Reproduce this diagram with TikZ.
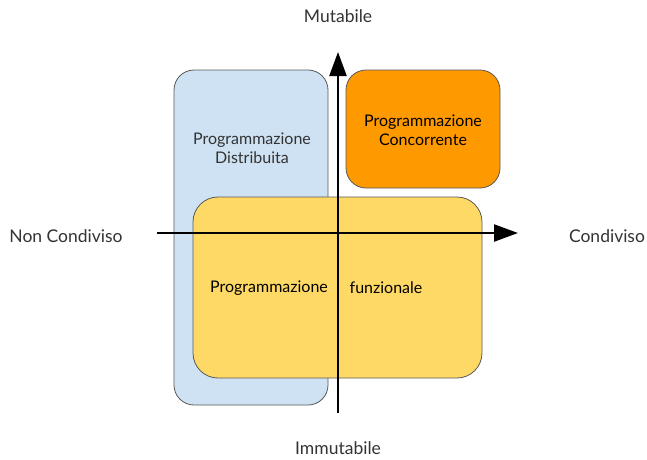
\documentclass[tikz,border=0pt]{standalone}
\usepackage{fontspec}
\setmainfont{Lato}
\usetikzlibrary{arrows.meta}
\definecolor{boxblue}{HTML}{CFE2F3}
\definecolor{boxorange}{HTML}{FF9900}
\definecolor{boxyellow}{HTML}{FFD966}
\definecolor{edgegray}{HTML}{595959}
\definecolor{txt}{HTML}{333333}
\begin{document}
\begin{tikzpicture}[x=1pt,y=-1pt,
  region/.style={draw=edgegray,line width=0.8pt,rounded corners=20pt},
  lbl/.style={font=\fontsize{17.5}{20}\selectfont,text=txt,align=center,inner sep=0pt},
  inlbl/.style={font=\fontsize{16}{19.5}\selectfont,text=txt,align=center,inner sep=0pt},
  axis/.style={line width=2.4pt,-{Triangle[length=24pt,width=17pt]}}]
\useasboundingbox (0,0) rectangle (647,459);
\fill[white] (0,0) rectangle (647,459);
\draw[region,fill=boxblue] (174,70) rectangle (328,405);
\draw[region,fill=boxorange] (346,70) rectangle (500,188);
\draw[region,fill=boxyellow,rounded corners=25pt] (193,197) rectangle (482,378);
\coordinate (hl) at (157,233);
\coordinate (hr) at (518,233);
\coordinate (vb) at (338,413);
\coordinate (vt) at (338,52);
\draw[axis] (hl) -- (hr);
\draw[axis] (vb) -- (vt);
\node[lbl] (mut) at (338,16) {Mutabile};
\node[lbl] (imm) at (338,448) {Immutabile};
\node[lbl] (nc) at (66,236) {Non Condiviso};
\node[lbl] (c) at (607,236) {Condiviso};
\node[inlbl] (pd) at (252,148) {Programmazione\\Distribuita};
\node[inlbl,text=black] (pc) at (423,130) {Programmazione\\Concorrente};
\node[inlbl,text=black] (pf1) at (269,288) {Programmazione};
\node[inlbl,text=black] (pf2) at (386,288) {funzionale};
\end{tikzpicture}
\end{document}
